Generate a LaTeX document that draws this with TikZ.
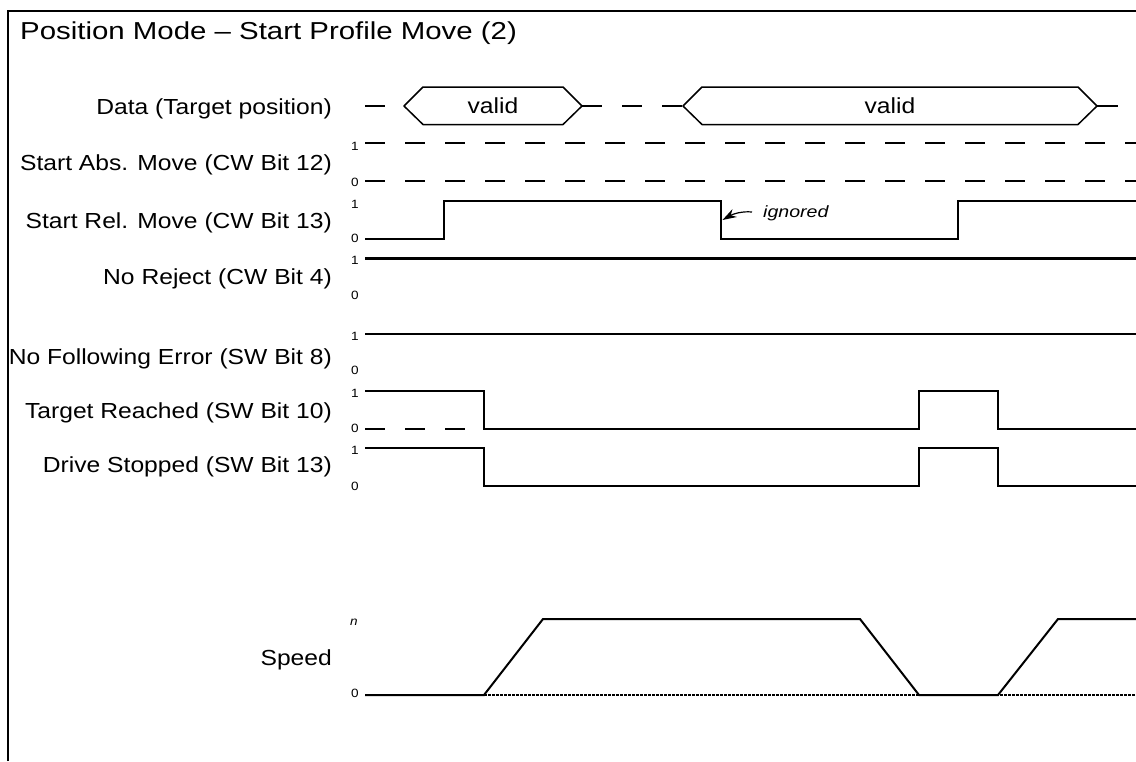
\documentclass[tikz,border=0pt]{standalone}
\usepackage{fontspec}
\setmainfont{Liberation Sans}
\usepackage{graphicx}
\usetikzlibrary{arrows.meta}
\newcommand{\stretchx}[1]{\scalebox{1.2}[1]{#1}}
\newcommand{\stretchl}[1]{\scalebox{1.13}[1]{#1}}
\newcommand{\lblfont}{\fontsize{21.8}{25}\selectfont}
\begin{document}
\begin{tikzpicture}[x=1pt,y=-1pt,
  sig/.style={line width=2pt, line join=miter},
  dsig/.style={line width=2pt, dash pattern=on 20pt off 20pt},
  hexa/.style={line width=1.5pt, line join=round},
  lbl/.style={anchor=base east, inner sep=0pt, font=\lblfont},
  val/.style={inner sep=0pt, font=\lblfont},
  dig/.style={inner sep=0pt, font=\fontsize{12}{14}\selectfont},
  ttl/.style={anchor=base west, inner sep=0pt, font=\fontsize{24.5}{28}\selectfont},
  note/.style={anchor=west, inner sep=0pt, font=\fontsize{16.3}{19}\selectfont\itshape}]
\useasboundingbox (0,0) rectangle (1136,761);
\fill[white] (0,0) rectangle (1136,761);
% frame
\draw[line width=2pt] (8,761) -- (8,11) -- (1136,11);
\node[ttl] (title) at (20,39) {\stretchx{Position Mode -- Start Profile Move (2)}};
% left labels
\node[lbl] (lData) at (332,114) {\stretchl{Data (Target position)}};
\node[lbl] (lAbs) at (332,170.5) {\stretchl{Start Abs. Move (CW Bit 12)}};
\node[lbl] (lRel) at (332,228) {\stretchl{Start Rel. Move (CW Bit 13)}};
\node[lbl] (lRej) at (332,284) {\stretchl{No Reject (CW Bit 4)}};
\node[lbl] (lFol) at (332,364) {\stretchl{No Following Error (SW Bit 8)}};
\node[lbl] (lTR) at (332,418) {\stretchl{Target Reached (SW Bit 10)}};
\node[lbl] (lDS) at (332,472.5) {\stretchl{Drive Stopped (SW Bit 13)}};
\node[lbl] (lSp) at (332,665) {\stretchl{Speed}};
% digit labels
\node[dig] (a1) at (355,146) {\stretchl{1}};
\node[dig] (a0) at (355,182) {\stretchl{0}};
\node[dig] (r1) at (355,204) {\stretchl{1}};
\node[dig] (r0) at (355,238) {\stretchl{0}};
\node[dig] (j1) at (355,260) {\stretchl{1}};
\node[dig] (j0) at (355,295) {\stretchl{0}};
\node[dig] (f1) at (355,336) {\stretchl{1}};
\node[dig] (f0) at (355,370) {\stretchl{0}};
\node[dig] (t1) at (355,393) {\stretchl{1}};
\node[dig] (t0) at (355,428) {\stretchl{0}};
\node[dig] (s1) at (355,450) {\stretchl{1}};
\node[dig] (s0) at (355,486) {\stretchl{0}};
\node[dig] (sn) at (354,622) {\stretchl{\itshape n}};
\node[dig] (sz) at (355,693) {\stretchl{0}};
% Data row
\draw[dsig, line width=1.5pt] (365,106) -- (404,106);
\draw[hexa] (404,106) -- (423,87) -- (563,87) -- (582,106) -- (563,124.5) -- (423,124.5) -- cycle;
\node[val] (v1) at (493,106) {\stretchl{valid}};
\draw[dsig, line width=1.5pt] (582,106) -- (683,106);
\draw[hexa] (683,106) -- (702,87) -- (1078,87) -- (1097,106) -- (1078,124.5) -- (702,124.5) -- cycle;
\node[val] (v2) at (890,106) {\stretchl{valid}};
\draw[line width=1.5pt] (1097,106) -- (1118,106);
% Start Abs
\draw[dsig] (365,143) -- (1136,143);
\draw[dsig] (365,181) -- (1136,181);
% Start Rel
\draw[sig] (365,239) -- (444,239) -- (444,201) -- (721,201) -- (721,239) -- (958,239) -- (958,201) -- (1136,201);
\coordinate (ig) at (722.5,220);
\coordinate (igt) at (752,212);
\node[note] (ign) at (763,213) {\stretchx{ignored}};
\draw[line width=1.2pt, -{Stealth[length=14pt,width=9pt]}] (igt) .. controls (742,211) and (733,214) .. (ig);
% No Reject
\draw[line width=3pt] (365,258) -- (1136,258);
% No Following Error
\draw[sig] (365,334) -- (1136,334);
% Target Reached
\draw[sig] (365,391) -- (484,391) -- (484,429) -- (919,429) -- (919,391) -- (998,391) -- (998,429) -- (1136,429);
\draw[dsig] (365,429) -- (484,429);
% Drive Stopped
\draw[sig] (365,448) -- (484,448) -- (484,486) -- (919,486) -- (919,448) -- (998,448) -- (998,486) -- (1136,486);
% Speed
\draw[line width=1.5pt, dash pattern=on 2.5pt off 1.5pt] (484,695) -- (1136,695);
\draw[sig] (365,695) -- (484,695) -- (543,619) -- (860,619) -- (919,695) -- (998,695) -- (1058,619) -- (1136,619);
\end{tikzpicture}
\end{document}
